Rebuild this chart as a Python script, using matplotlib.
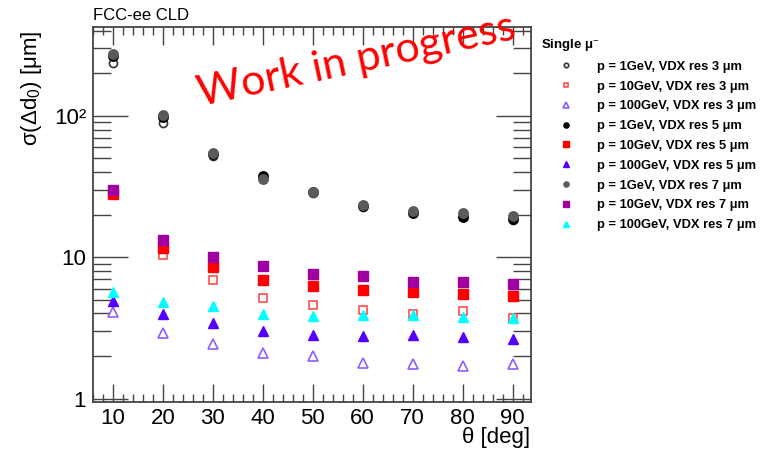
import numpy as np
import matplotlib
matplotlib.use('Agg')
import matplotlib.pyplot as plt
from matplotlib.ticker import FixedLocator, NullFormatter, LogLocator

plt.rcParams['font.family'] = ['Liberation Sans', 'DejaVu Sans']
plt.rcParams['mathtext.fontset'] = 'custom'
plt.rcParams['mathtext.rm'] = 'Liberation Sans'
plt.rcParams['mathtext.it'] = 'Liberation Sans:italic'
plt.rcParams['mathtext.bf'] = 'Liberation Sans:bold'

# polar angle [deg]
theta = [10, 20, 30, 40, 50, 60, 70, 80, 90]

# sigma(delta d0) [um]
p1_res3 = [236, 89, 52, 36, 28.5, 22.8, 20.5, 19.3, 18.4]
p10_res3 = [27.5, 10.4, 6.87, 5.18, 4.62, 4.21, 3.99, 4.14, 3.73]
p100_res3 = [4.1, 2.9, 2.44, 2.11, 1.99, 1.78, 1.76, 1.69, 1.76]
p1_res5 = [265, 98, 54, 37.5, 29, 23, 20.5, 19.4, 18.7]
p10_res5 = [28.0, 11.7, 8.5, 6.9, 6.3, 5.83, 5.65, 5.53, 5.35]
p100_res5 = [4.9, 3.94, 3.42, 3.0, 2.8, 2.77, 2.8, 2.72, 2.62]
p1_res7 = [272, 101, 55, 35.8, 29, 23.3, 21.3, 20.5, 19.5]
p10_res7 = [29.8, 13.2, 10.05, 8.6, 7.57, 7.33, 6.65, 6.65, 6.5]
p100_res7 = [5.67, 4.82, 4.49, 3.99, 3.84, 3.88, 3.92, 3.77, 3.71]

labels = ['p = 1GeV, VDX res 3 μm', 'p = 10GeV, VDX res 3 μm', 'p = 100GeV, VDX res 3 μm',
          'p = 1GeV, VDX res 5 μm', 'p = 10GeV, VDX res 5 μm', 'p = 100GeV, VDX res 5 μm',
          'p = 1GeV, VDX res 7 μm', 'p = 10GeV, VDX res 7 μm', 'p = 100GeV, VDX res 7 μm']
series = [p1_res3, p10_res3, p100_res3, p1_res5, p10_res5, p100_res5, p1_res7, p10_res7, p100_res7]

# (marker, colour, filled)
styles = [('o', '#333333', False), ('s', '#ff4d4d', False), ('^', '#8f5cff', False),
          ('o', '#000000', True), ('s', '#ff0000', True), ('^', '#5500ff', True),
          ('o', '#5a5a5a', True), ('s', '#a000a0', True), ('^', '#00ffff', True)]
sizes = {'o': 6.8, 's': 7.2, '^': 7.6}

fig = plt.figure(figsize=(7.75, 4.54), dpi=100)
ax = fig.add_axes([93 / 775, 1 - 402 / 454, 438 / 775, 375 / 454])

handles = []
for vals, lab, (m, c, filled) in zip(series, labels, styles):
    if filled:
        h, = ax.plot(theta, vals, ls='none', marker=m, ms=sizes[m], color=c, mec=c, label=lab)
    else:
        h, = ax.plot(theta, vals, ls='none', marker=m, ms=sizes[m] - 1, mfc='white', mec=c, mew=1.2, label=lab)
    handles.append(h)

ax.set_yscale('log')
ax.set_xlim(6.0, 93.7)
ax.set_ylim(0.946, 425)

ax.xaxis.set_major_locator(FixedLocator(np.arange(10, 91, 10)))
ax.xaxis.set_minor_locator(FixedLocator(np.arange(6, 94, 2)))
ax.yaxis.set_major_locator(FixedLocator([1, 10, 100]))
ax.yaxis.set_minor_locator(LogLocator(base=10, subs=np.arange(2, 10)))
ax.yaxis.set_minor_formatter(NullFormatter())
ax.set_yticklabels(['1', '10', '10²'])

ax.tick_params(which='both', direction='in', top=True, right=True, colors='#444444',
               labelcolor='black', labelsize=16)
ax.tick_params(axis='x', which='major', length=13, width=1, pad=4)
ax.tick_params(axis='x', which='minor', length=6, width=1)
ax.tick_params(axis='y', which='major', length=25, width=1, pad=5)
ax.tick_params(axis='y', which='minor', length=13, width=1)
for sp in ax.spines.values():
    sp.set_linewidth(1.3)
    sp.set_color('#444444')

fig.text(32 / 775, 1 - 30 / 454, r'σ(Δd$_{0}$) [μm]', rotation=90, ha='center', va='top', fontsize=16)
fig.text(530 / 775, 1 - 438 / 454, 'θ [deg]', ha='right', va='center', fontsize=16)
fig.text(93 / 775, 1 - 16 / 454, 'FCC-ee CLD', ha='left', va='center', fontsize=12)

fig.text(357 / 775, 1 - 61 / 454, 'Work in progress', color='red', fontsize=31, family='Lato',
         rotation=12, rotation_mode='anchor', ha='center', va='center')

leg = fig.legend(handles, labels, loc='upper left', bbox_to_anchor=(541 / 775, 1 - 37 / 454),
                 title='Single μ$^{-}$', frameon=False, markerscale=0.55, handlelength=3.8,
                 handletextpad=0.5, labelspacing=0.6, borderpad=0, borderaxespad=0,
                 alignment='left', prop={'weight': 'bold', 'size': 9.3})
leg.get_title().set_fontweight('bold')
leg.get_title().set_fontsize(9.5)

fig.savefig('out.png', dpi=100)
